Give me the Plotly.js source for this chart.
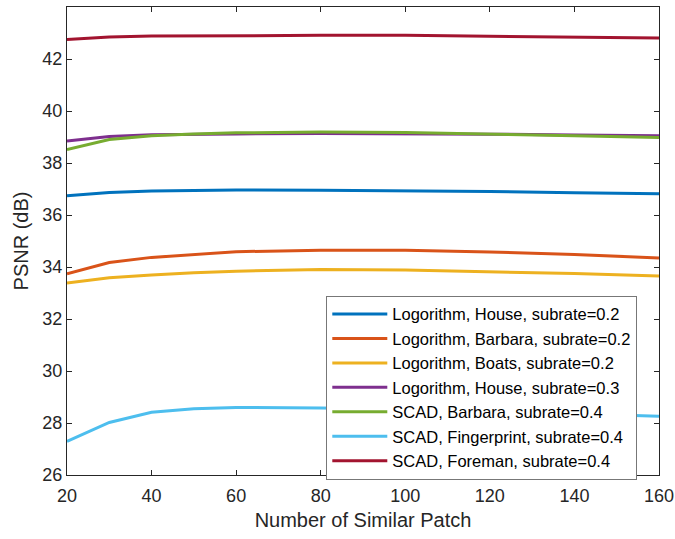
<!DOCTYPE html>
<html>
<head>
<meta charset="utf-8">
<script src="https://cdn.plot.ly/plotly-3.0.1.min.js"></script>
<style>
  html, body { margin: 0; padding: 0; background: #fff; }
  #chart { width: 675px; height: 539px; }
</style>
</head>
<body>
<div id="chart"></div>
<script>
// Number of similar patches used in the reconstruction
const patchCounts = [20, 30, 40, 50, 60, 80, 100, 120, 140, 160];

// PSNR (dB) for each method / image / subsampling rate
const logHouse02    = [36.74, 36.87, 36.92, 36.93, 36.96, 36.95, 36.93, 36.90, 36.86, 36.82];
const logBarbara02  = [33.74, 34.17, 34.37, 34.49, 34.59, 34.64, 34.64, 34.58, 34.48, 34.35];
const logBoats02    = [33.38, 33.59, 33.69, 33.78, 33.84, 33.90, 33.88, 33.82, 33.75, 33.65];
const logHouse03    = [38.85, 39.02, 39.09, 39.11, 39.12, 39.13, 39.13, 39.11, 39.08, 39.05];
const scadBarbara04 = [38.52, 38.90, 39.05, 39.12, 39.16, 39.19, 39.17, 39.12, 39.05, 38.98];
const scadFinger04  = [27.29, 28.02, 28.41, 28.55, 28.60, 28.58, 28.53, 28.45, 28.36, 28.26];
const scadForeman04 = [42.75, 42.85, 42.88, 42.89, 42.91, 42.91, 42.91, 42.88, 42.85, 42.81];

const seriesNames = [
  'Logorithm, House, subrate=0.2',
  'Logorithm, Barbara, subrate=0.2',
  'Logorithm, Boats, subrate=0.2',
  'Logorithm, House, subrate=0.3',
  'SCAD, Barbara, subrate=0.4',
  'SCAD, Fingerprint, subrate=0.4',
  'SCAD, Foreman, subrate=0.4'
];
const seriesValues = [logHouse02, logBarbara02, logBoats02, logHouse03,
                      scadBarbara04, scadFinger04, scadForeman04];
const seriesColors = ['#0072BD', '#D95319', '#EDB120', '#7E2F8E',
                      '#77AC30', '#4DBEEE', '#A2142F'];

const xTicks = [20, 40, 60, 80, 100, 120, 140, 160];
const yTicks = [26, 28, 30, 32, 34, 36, 38, 40, 42, 44];

const FONT = 'Liberation Sans, Arial, sans-serif';

const traces = seriesValues.map((vals, i) => ({
  type: 'scatter',
  mode: 'lines',
  x: patchCounts,
  y: vals,
  name: seriesNames[i],
  line: { color: seriesColors[i], width: 3 }
}));

const axisCommon = {
  showline: true,
  linecolor: '#262626',
  linewidth: 1,
  mirror: 'ticks',
  ticks: 'inside',
  ticklen: 5,
  tickwidth: 1,
  tickcolor: '#262626',
  showgrid: false,
  zeroline: false,
  tickfont: { family: FONT, size: 18, color: '#262626' }
};

const layout = {
  width: 675,
  height: 539,
  margin: { l: 67, r: 16, t: 7, b: 64 },
  paper_bgcolor: '#ffffff',
  plot_bgcolor: '#ffffff',
  showlegend: true,
  xaxis: Object.assign({}, axisCommon, {
    range: [20, 160],
    tickvals: xTicks,
    ticktext: xTicks.map(String),
    ticklabelstandoff: 4,
    title: { text: 'Number of Similar Patch', standoff: 8,
             font: { family: FONT, size: 20, color: '#262626' } }
  }),
  yaxis: Object.assign({}, axisCommon, {
    range: [26, 44],
    tickvals: yTicks,
    ticktext: yTicks.map(String),
    title: { text: 'PSNR (dB)', standoff: 8,
             font: { family: FONT, size: 20, color: '#262626' } }
  }),
  legend: {
    x: 0.438,
    y: 0.383,
    xanchor: 'left',
    yanchor: 'top',
    bgcolor: '#ffffff',
    bordercolor: '#777777',
    borderwidth: 1,
    itemwidth: 55,
    font: { family: FONT, size: 16.5, color: '#000000' },
    tracegroupgap: 0
  }
};

Plotly.newPlot('chart', traces, layout, { displayModeBar: false, staticPlot: true });
</script>
</body>
</html>
